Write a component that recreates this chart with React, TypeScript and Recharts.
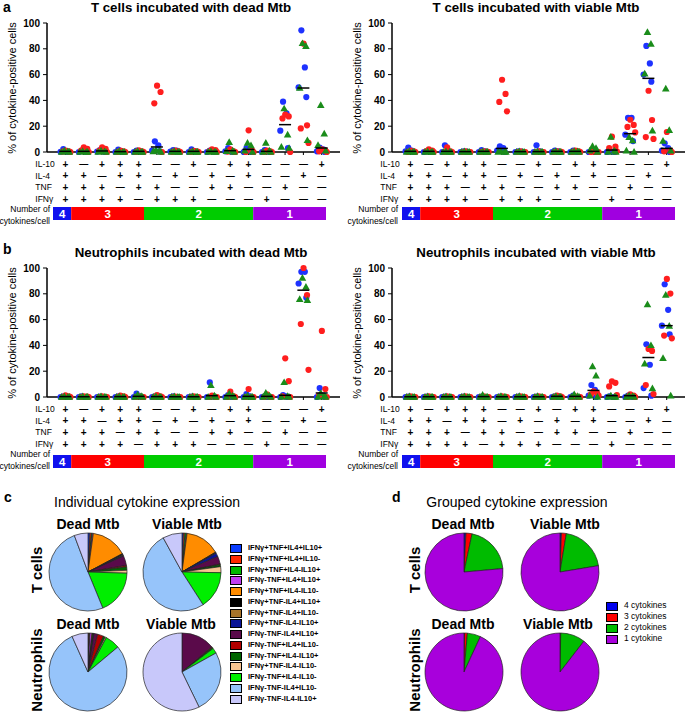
import React from 'react';
import {
    ScatterChart,
    Scatter,
    XAxis,
    YAxis,
    BarChart,
    Bar,
    LabelList,
    PieChart,
    Pie,
    Cell,
} from 'recharts';

const FONT = '"Liberation Sans", Arial, Helvetica, sans-serif';

// columns 1..15 of the marker table
const columns = [1, 2, 3, 4, 5, 6, 7, 8, 9, 10, 11, 12, 13, 14, 15];
const yTicks = [0, 20, 40, 60, 80, 100];

// +/- table under every dot plot
const il10Signs = ['+', '-', '+', '+', '+', '-', '-', '+', '-', '+', '+', '-', '-', '-', '+'];
const il4Signs = ['+', '+', '-', '+', '+', '-', '+', '-', '+', '-', '+', '-', '-', '+', '-'];
const tnfSigns = ['+', '+', '+', '-', '+', '+', '-', '-', '+', '+', '-', '-', '+', '-', '-'];
const ifngSigns = ['+', '+', '+', '+', '-', '+', '+', '+', '-', '-', '-', '+', '-', '-', '-'];
const markerRows = [
    { label: 'IL-10', signs: il10Signs },
    { label: 'IL-4', signs: il4Signs },
    { label: 'TNF', signs: tnfSigns },
    { label: 'IFNγ', signs: ifngSigns },
];

// number of cytokines per cell band
const groupNames = ['4', '3', '2', '1'];
const groupColumns = [1, 4, 6, 4];
const groupBarColors = ['#1010ee', '#ff0000', '#00cc00', '#a000e0'];

// ---- a: T cells, dead Mtb ----
const tDeadBlue = [
    [2.3, 0.5, 0.2, 0], [1, 0.5, 0, 0], [1.5, 1, 0.3, 0], [1.8, 0.5, 0, 0], [1, 0.5, 0, 0],
    [8.3, 5.2, 1, 0.5], [1.5, 1, 0.3, 0], [2, 0.5, 0, 0], [1, 0.5, 0, 0], [3, 1, 0.5, 0],
    [3, 1, 0, 0], [1.5, 0.5, 0, 0], [39, 30, 16.5, 3], [94.3, 65.6, 50.1, 42.6], [3.5, 2, 0.5, 0],
];
const tDeadRed = [
    [1, 0.5, 0.3, 0], [3.6, 2.5, 1, 0], [3.6, 2.5, 1, 0], [1, 0.5, 0, 0], [1.2, 0.5, 0, 0],
    [51.4, 46.5, 37.7, 0], [1, 0.5, 0, 0], [0.8, 0.5, 0, 0], [2, 1.5, 0.5, 0], [2, 0.5, 0.3, 0],
    [16.8, 1, 0, 0], [1, 0.5, 0, 0], [29, 27.6, 26, 0], [84, 20.7, 18.3, 7], [2, 1, 0.5, 0],
];
const tDeadGreen = [
    [1, 0.3, 0, 0], [0.5, 0, 0, 0], [1, 0.3, 0, 0], [0.5, 0, 0, 0], [0.5, 0, 0, 0],
    [1.5, 1, 0.3, 0], [0.5, 0, 0, 0], [0.5, 0, 0, 0], [0.5, 0, 0, 0], [7.5, 1, 0.5, 0],
    [7, 5, 1, 0], [7, 1, 0, 0], [33.6, 13.4, 3.9, 3], [84.2, 81.9, 49.6, 9], [36.2, 14.2, 5.2, 1],
];
const tDeadMedian = [0.5, 0.5, 0.8, 0.3, 0.5, 3.9, 0.5, 0.5, 0.5, 1, 2, 0.5, 21.2, 49.6, 3.1];

// ---- a: T cells, viable Mtb ----
const tViableBlue = [
    [3.4, 1, 0.5, 0], [0.5, 0.3, 0, 0], [5.2, 0.5, 0, 0], [0.5, 0.3, 0, 0], [1.5, 0.5, 0, 0],
    [4.4, 3, 1, 0], [0.5, 0.3, 0, 0], [5.2, 0.5, 0, 0], [1, 0.5, 0, 0], [1, 0.5, 0, 0],
    [0.5, 0.3, 0, 0], [0.5, 0.3, 0, 0], [26.4, 26.4, 13.4, 8.5], [82.2, 68.7, 60, 54.5], [6.7, 3, 1, 0],
];
const tViableRed = [
    [1, 0.5, 0, 0], [2, 1, 0.5, 0], [3.6, 0.5, 0, 0], [0.5, 0, 0, 0], [0.5, 0.3, 0, 0],
    [56, 45, 38.8, 31.5], [0.5, 0, 0, 0], [0.5, 0, 0, 0], [0.5, 0.3, 0, 0], [1, 0.5, 0, 0],
    [0.3, 0, 0, 0], [11.9, 4.1, 3, 0.5], [25, 21, 19.4, 15.2], [47.5, 24.8, 11.6, 10.1], [15.5, 1, 0.5, 0],
];
const tViableGreen = [
    [0.5, 0, 0, 0], [0.3, 0, 0, 0], [0.3, 0, 0, 0], [0.3, 0, 0, 0], [0.3, 0, 0, 0],
    [0.5, 0, 0, 0], [0.3, 0, 0, 0], [0.3, 0, 0, 0], [0.5, 0, 0, 0], [0.5, 0.3, 0, 0],
    [4.4, 3, 1, 0], [11.6, 1, 0, 0], [11.4, 8.8, 1, 0], [92.8, 83.7, 60.7, 16.5], [49, 16.8, 8.5, 1],
];
const tViableMedian = [0.5, 0.5, 0.5, 0.3, 0.5, 2.8, 0.3, 0.3, 0.5, 0.5, 0.5, 1.5, 14.2, 57.1, 2.8];

// ---- b: neutrophils, dead Mtb ----
const nDeadBlue = [
    [0.5, 0.3, 0, 0], [0.5, 0, 0, 0], [0.3, 0, 0, 0], [0.5, 0, 0, 0], [2.6, 0.5, 0, 0],
    [0.5, 0, 0, 0], [0.5, 0, 0, 0], [0.3, 0, 0, 0], [11.3, 0.5, 0, 0], [1.5, 0.5, 0, 0],
    [2.3, 0.5, 0, 0], [0.5, 0, 0, 0], [1.5, 0.5, 0, 0], [97, 97, 88, 77], [6.9, 1, 0, 0],
];
const nDeadRed = [
    [1.3, 0.5, 0, 0], [0.5, 0.3, 0, 0], [0.5, 0, 0, 0], [1, 0.5, 0, 0], [0.5, 0, 0, 0],
    [1.5, 0.5, 0, 0], [0.3, 0, 0, 0], [0.5, 0, 0, 0], [1, 0, 0, 0], [4.1, 0.5, 0, 0],
    [6.2, 0, 0, 0], [2, 0, 0, 0], [30, 12.3, 0.5, 0], [100, 79, 56.6, 21.1], [51.2, 6.2, 1, 0],
];
const nDeadGreen = [
    [0.3, 0, 0, 0], [0.3, 0, 0, 0], [0.3, 0, 0, 0], [0.3, 0, 0, 0], [1.8, 0.5, 0, 0],
    [0.3, 0, 0, 0], [0.3, 0, 0, 0], [0.3, 0, 0, 0], [9, 1, 0, 0], [2.5, 1, 0, 0],
    [1, 0, 0, 0], [3.1, 1, 0, 0], [11.3, 0.5, 0, 0], [92.3, 85.3, 75.8, 75], [3, 0.5, 0, 0],
];
const nDeadMedian = [0.3, 0.2, 0.2, 0.3, 0.5, 0.3, 0.2, 0.2, 1, 1, 0.5, 0.5, 1.3, 82.8, 3.1];

// ---- b: neutrophils, viable Mtb ----
const nViableBlue = [
    [0.3, 0, 0, 0], [0.3, 0, 0, 0], [0.3, 0, 0, 0], [0.3, 0, 0, 0], [0.3, 0, 0, 0],
    [0.3, 0, 0, 0], [0.3, 0, 0, 0], [0.3, 0, 0, 0], [0.5, 0, 0, 0], [1, 0, 0, 0],
    [9.3, 5.5, 1, 0], [0.5, 0, 0, 0], [1, 0.5, 0, 0], [40.9, 25, 6.9, 1], [87.4, 67.6, 55.3, 48.6],
];
const nViableRed = [
    [0.5, 0, 0, 0], [0.5, 0, 0, 0], [0.5, 0, 0, 0], [0.5, 0, 0, 0], [0.5, 0, 0, 0],
    [0.5, 0, 0, 0], [0.5, 0, 0, 0], [0.5, 0, 0, 0], [1, 0.5, 0, 0], [0.5, 0, 0, 0],
    [4.4, 3.1, 2, 1], [12.1, 11, 8.2, 1.5], [2, 1, 0, 0], [37.3, 35.7, 9.3, 2.3], [91.5, 80.2, 47.6, 45.5],
];
const nViableGreen = [
    [0.3, 0, 0, 0], [0.3, 0, 0, 0], [0.3, 0, 0, 0], [0.3, 0, 0, 0], [1.5, 0, 0, 0],
    [0.5, 0, 0, 0], [0.5, 0, 0, 0], [0.5, 0, 0, 0], [0.5, 0, 0, 0], [2, 0.5, 0, 0],
    [23.7, 16.5, 1, 0], [1, 0, 0, 0], [1, 0.5, 0, 0], [71.7, 40, 25.7, 6.5], [79, 55, 30, 1],
];
const nViableMedian = [0.2, 0.2, 0.2, 0.2, 0.3, 0.2, 0.2, 0.2, 0.5, 0.5, 5.1, 1, 1, 30.6, 55.3];

// ---- c: individual cytokine expression ----
const cytokineLabels = [
    'IFNγ+TNF+IL4+IL10+', 'IFNγ+TNF+IL4+IL10-', 'IFNγ+TNF+IL4-IL10+', 'IFNγ-TNF+IL4+IL10+',
    'IFNγ+TNF+IL4-IL10-', 'IFNγ+TNF-IL4+IL10+', 'IFNγ+TNF-IL4+IL10-', 'IFNγ+TNF-IL4-IL10+',
    'IFNγ-TNF-IL4+IL10+', 'IFNγ-TNF+IL4+IL10-', 'IFNγ-TNF+IL4-IL10+', 'IFNγ+TNF-IL4-IL10-',
    'IFNγ-TNF+IL4-IL10-', 'IFNγ-TNF-IL4+IL10-', 'IFNγ-TNF-IL4-IL10+',
];
const cytokineColors = [
    '#0a3cff', '#ff2a00', '#00b800', '#c03cf0', '#ff8c00', '#000000', '#a8742a', '#0a1496',
    '#5a0a4a', '#b00000', '#006400', '#f8c490', '#00ee00', '#96c4fa', '#c8c8fa',
];
const tDeadIndividual = [0.8, 0.6, 0.4, 0.4, 15, 0.5, 0.3, 0.3, 4, 0.6, 1.4, 1.2, 18.3, 50.5, 5.7];
const tViableIndividual = [0.6, 0.6, 0.6, 0.3, 14.4, 0.3, 0.2, 1.5, 3.2, 0.3, 0.8, 2.5, 15.6, 51.1, 8];
const nDeadIndividual = [0.3, 0.3, 0.2, 0.8, 0.3, 0.2, 0.2, 0.2, 1.5, 2.5, 0.8, 0.5, 6.1, 79.4, 6.7];
const nViableIndividual = [0, 0, 0, 0, 0, 0, 0, 0, 13.9, 0.3, 0.5, 0, 2.2, 25.9, 57.2];

// ---- d: grouped cytokine expression ----
const groupedLabels = ['4 cytokines', '3 cytokines', '2 cytokines', '1 cytokine'];
const groupedColors = ['#0000ee', '#ff0000', '#00bb00', '#a800dc'];
const tDeadGrouped = [0.8, 2.5, 20.3, 76.4];
const tViableGrouped = [0.6, 2, 19.8, 77.6];
const nDeadGrouped = [0.2, 1.2, 5.5, 93.1];
const nViableGrouped = [0, 0.3, 10.2, 89.5];

const BLUE = '#1e32ff';
const RED = '#ff1e1e';
const GREEN = '#1a8c1a';
const jitter = [-0.05, 0.14, -0.2, 0.22];

const toPoints = (cols: number[][], shift: number) =>
    cols.flatMap((vals, c) => vals.map((v, i) => ({ x: c + 1 + shift + jitter[i % jitter.length], y: v })));

type TxtProps = {
    x: number;
    y: number;
    size: number;
    bold?: boolean;
    anchor?: 'start' | 'middle' | 'end';
    rotate?: boolean;
    children: React.ReactNode;
};

const Txt = ({ x, y, size, bold, anchor = 'start', rotate, children }: TxtProps) => {
    const tx = anchor === 'middle' ? -50 : anchor === 'end' ? -100 : 0;
    return (
        <div
            style={{
                position: 'absolute',
                left: x,
                top: y,
                fontSize: size,
                fontWeight: bold ? 700 : 400,
                lineHeight: 1.1,
                whiteSpace: 'nowrap',
                transform: `translate(${rotate ? -50 : tx}%, -50%)${rotate ? ' rotate(-90deg)' : ''}`,
            }}
        >
            {children}
        </div>
    );
};

const SignTick = (props: any) => {
    const { x, y, payload } = props;
    const idx = payload.value - 1;
    const rowDy = [9, 20.5, 32, 44];
    return (
        <g>
            {markerRows.map((row, r) => (
                <text
                    key={row.label}
                    x={x}
                    y={y + rowDy[r]}
                    textAnchor="middle"
                    dominantBaseline="central"
                    fontSize={row.signs[idx] === '+' ? 10 : 9}
                    fontWeight={700}
                    fill="#000"
                >
                    {row.signs[idx] === '+' ? '+' : '—'}
                </text>
            ))}
            {idx === 0 &&
                markerRows.map((row, r) => (
                    <text
                        key={'l' + row.label}
                        x={x - 30}
                        y={y + rowDy[r]}
                        textAnchor="start"
                        dominantBaseline="central"
                        fontSize={8.5}
                        fill="#000"
                    >
                        {row.label}
                    </text>
                ))}
        </g>
    );
};

const circleShape = (color: string) => (p: any) => <circle cx={p.cx} cy={p.cy} r={3.1} fill={color} />;
const triangleShape = (p: any) => (
    <path d={`M${p.cx},${p.cy - 4} L${p.cx + 3.8},${p.cy + 2.7} L${p.cx - 3.8},${p.cy + 2.7} Z`} fill={GREEN} />
);
const medianShape = (p: any) => (
    <line x1={p.cx - 6} x2={p.cx + 6} y1={p.cy} y2={p.cy} stroke="#000" strokeWidth={1.5} />
);

type DotPanelProps = {
    left: number;
    top: number;
    title: string;
    blue: number[][];
    red: number[][];
    green: number[][];
    medians: number[];
    barX: number;
    barY: number;
    textEnd: number;
};

function DotPanel({ left, top, title, blue, red, green, medians, barX, barY, textEnd }: DotPanelProps) {
    const medianPoints = medians.map((m, i) => ({ x: columns[i], y: m }));
    const groupRow: Record<string, number | string> = { name: 'cells' };
    groupNames.forEach((g, i) => (groupRow['g' + g] = groupColumns[i]));

    return (
        <>
            <Txt x={left + 191} y={top + 8} size={13.3} bold anchor="middle">
                {title}
            </Txt>
            <Txt x={left + 12} y={top + 87.5} size={11} rotate>
                % of cytokine-positive cells
            </Txt>
            <div style={{ position: 'absolute', left, top }}>
                <ScatterChart width={340} height={207} margin={{ top: 23, right: 0, bottom: 0, left: 0 }}>
                    <XAxis
                        type="number"
                        dataKey="x"
                        domain={[0, 16]}
                        ticks={columns}
                        interval={0}
                        height={55}
                        axisLine={{ stroke: '#000', strokeWidth: 1.5 }}
                        tickLine={{ stroke: '#000' }}
                        tickSize={3}
                        tickMargin={0}
                        tick={(p: any) => <SignTick {...p} />}
                    />
                    <YAxis
                        type="number"
                        dataKey="y"
                        domain={[0, 100]}
                        ticks={yTicks}
                        width={47}
                        axisLine={{ stroke: '#000', strokeWidth: 1.5 }}
                        tickLine={{ stroke: '#000' }}
                        tickSize={4}
                        tickMargin={3}
                        tick={{ fontSize: 10, fontWeight: 700, fill: '#000' }}
                    />
                    <Scatter data={toPoints(blue, -0.06)} shape={circleShape(BLUE)} isAnimationActive={false} />
                    <Scatter data={toPoints(red, 0.06)} shape={circleShape(RED)} isAnimationActive={false} />
                    <Scatter data={toPoints(green, 0)} shape={triangleShape} isAnimationActive={false} />
                    <Scatter data={medianPoints} shape={medianShape} isAnimationActive={false} />
                </ScatterChart>
            </div>
            <Txt x={left + textEnd} y={top + 210} size={8.5} anchor="end">
                Number of
            </Txt>
            <Txt x={left + textEnd} y={top + 221.5} size={8.5} anchor="end">
                cytokines/cell
            </Txt>
            <div style={{ position: 'absolute', left: left + barX, top: top + barY }}>
                <BarChart
                    layout="vertical"
                    width={273}
                    height={13}
                    data={[groupRow]}
                    margin={{ top: 0, right: 0, bottom: 0, left: 0 }}
                    barCategoryGap={0}
                >
                    <XAxis type="number" hide domain={[0, 15]} />
                    <YAxis type="category" dataKey="name" hide />
                    {groupNames.map((g, i) => (
                        <Bar key={g} dataKey={'g' + g} stackId="n" fill={groupBarColors[i]} isAnimationActive={false}>
                            <LabelList
                                dataKey={'g' + g}
                                content={(p: any) => (
                                    <text
                                        x={p.x + p.width / 2}
                                        y={p.y + p.height / 2}
                                        textAnchor="middle"
                                        dominantBaseline="central"
                                        fill="#fff"
                                        fontSize={11.5}
                                        fontWeight={700}
                                    >
                                        {g}
                                    </text>
                                )}
                            />
                        </Bar>
                    ))}
                </BarChart>
            </div>
        </>
    );
}

function MiniPie({ cx, cy, values, colors }: { cx: number; cy: number; values: number[]; colors: string[] }) {
    const data = values
        .map((v, i) => ({ name: String(i), value: v, color: colors[i] }))
        .filter((d) => d.value > 0);
    return (
        <div style={{ position: 'absolute', left: cx - 41, top: cy - 41 }}>
            <PieChart width={82} height={82} margin={{ top: 0, right: 0, bottom: 0, left: 0 }}>
                <Pie
                    data={data}
                    dataKey="value"
                    cx={41}
                    cy={41}
                    outerRadius={39}
                    startAngle={90}
                    endAngle={-270}
                    stroke="#222"
                    strokeWidth={0.7}
                    isAnimationActive={false}
                >
                    {data.map((d) => (
                        <Cell key={d.name} fill={d.color} />
                    ))}
                </Pie>
            </PieChart>
        </div>
    );
}

function LegendList({ x, y, step, labels, colors, size, bold }: any) {
    return (
        <>
            {labels.map((l: string, i: number) => (
                <React.Fragment key={l}>
                    <div
                        style={{
                            position: 'absolute',
                            left: x,
                            top: y + i * step - 4,
                            width: 10,
                            height: 7,
                            background: colors[i],
                            border: '0.8px solid #000',
                        }}
                    />
                    <Txt x={x + 18} y={y + i * step} size={size} bold={bold}>
                        {l}
                    </Txt>
                </React.Fragment>
            ))}
        </>
    );
}

export default function App() {
    return (
        <div
            style={{
                position: 'absolute',
                left: 0,
                top: 0,
                width: 685,
                height: 714,
                background: '#fff',
                color: '#000',
                fontFamily: FONT,
                overflow: 'hidden',
            }}
        >
            <Txt x={3} y={8} size={14} bold>a</Txt>
            <Txt x={3} y={250} size={14} bold>b</Txt>
            <Txt x={4} y={498} size={14} bold>c</Txt>
            <Txt x={392} y={498} size={14} bold>d</Txt>

            <DotPanel left={0} top={0} title="T cells incubated with dead Mtb"
                blue={tDeadBlue} red={tDeadRed} green={tDeadGreen} medians={tDeadMedian}
                barX={53} barY={207} textEnd={50} />
            <DotPanel left={345} top={0} title="T cells incubated with viable Mtb"
                blue={tViableBlue} red={tViableRed} green={tViableGreen} medians={tViableMedian}
                barX={57} barY={207} textEnd={53} />
            <DotPanel left={0} top={245} title="Neutrophils incubated with dead Mtb"
                blue={nDeadBlue} red={nDeadRed} green={nDeadGreen} medians={nDeadMedian}
                barX={53} barY={210} textEnd={50} />
            <DotPanel left={345} top={245} title="Neutrophils incubated with viable Mtb"
                blue={nViableBlue} red={nViableRed} green={nViableGreen} medians={nViableMedian}
                barX={57} barY={210} textEnd={53} />

            {/* c */}
            <Txt x={147} y={503} size={14} anchor="middle">Individual cytokine expression</Txt>
            <Txt x={88} y={525} size={14} bold anchor="middle">Dead Mtb</Txt>
            <Txt x={187} y={525} size={14} bold anchor="middle">Viable Mtb</Txt>
            <Txt x={88} y={625} size={14} bold anchor="middle">Dead Mtb</Txt>
            <Txt x={181} y={625} size={14} bold anchor="middle">Viable Mtb</Txt>
            <Txt x={37} y={570} size={15} bold rotate>T cells</Txt>
            <Txt x={37} y={670} size={15} bold rotate>Neutrophils</Txt>
            <MiniPie cx={88} cy={572} values={tDeadIndividual} colors={cytokineColors} />
            <MiniPie cx={182} cy={572} values={tViableIndividual} colors={cytokineColors} />
            <MiniPie cx={88} cy={672} values={nDeadIndividual} colors={cytokineColors} />
            <MiniPie cx={182} cy={672} values={nViableIndividual} colors={cytokineColors} />
            <LegendList x={230} y={548} step={10.75} labels={cytokineLabels} colors={cytokineColors} size={7.5} bold />

            {/* d */}
            <Txt x={517} y={503} size={14} anchor="middle">Grouped cytokine expression</Txt>
            <Txt x={463} y={525} size={14} bold anchor="middle">Dead Mtb</Txt>
            <Txt x={565} y={525} size={14} bold anchor="middle">Viable Mtb</Txt>
            <Txt x={463} y={625} size={14} bold anchor="middle">Dead Mtb</Txt>
            <Txt x={558} y={625} size={14} bold anchor="middle">Viable Mtb</Txt>
            <Txt x={415} y={570} size={15} bold rotate>T cells</Txt>
            <Txt x={415} y={670} size={15} bold rotate>Neutrophils</Txt>
            <MiniPie cx={464} cy={572} values={tDeadGrouped} colors={groupedColors} />
            <MiniPie cx={560} cy={572} values={tViableGrouped} colors={groupedColors} />
            <MiniPie cx={464} cy={672} values={nDeadGrouped} colors={groupedColors} />
            <MiniPie cx={560} cy={672} values={nViableGrouped} colors={groupedColors} />
            <LegendList x={606} y={606} step={11} labels={groupedLabels} colors={groupedColors} size={8.5} />
        </div>
    );
}
